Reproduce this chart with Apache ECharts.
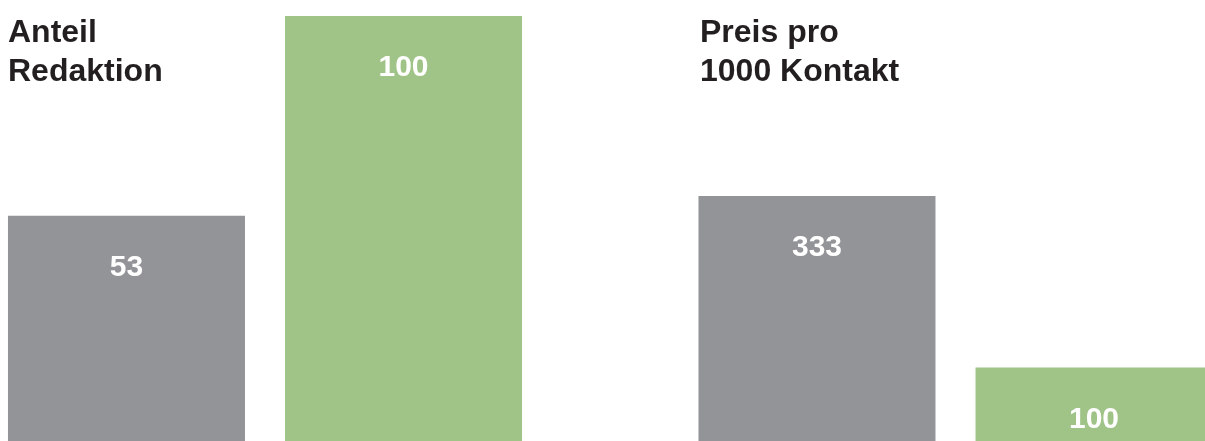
<!DOCTYPE html>
<html>
<head>
<meta charset="utf-8">
<script src="https://cdn.jsdelivr.net/npm/echarts@6/dist/echarts.min.js"></script>
<style>
html,body{margin:0;padding:0;background:#fff;}
#main{width:1205px;height:441px;}
</style>
</head>
<body>
<div id="main"></div>
<script>
var panelTitles = ['Anteil\nRedaktion', 'Preis pro\n1000 Kontakt'];
var grayValues = [53, 333];
var greenValues = [100, 100];

var GRAY = '#939498', GREEN = '#a0c487';
var FONT = '"Liberation Sans", Arial, sans-serif';

var chart = echarts.init(document.getElementById('main'), null, {renderer: 'canvas'});

var labelCfg = {
  show: true,
  position: ['50%', 52],
  align: 'center',
  verticalAlign: 'middle',
  color: '#ffffff',
  fontFamily: FONT,
  fontWeight: 'bold',
  fontSize: 30
};

function panelSeries(i) {
  return [
    {type: 'bar', xAxisIndex: i, yAxisIndex: i, data: [grayValues[i]], barWidth: 237, barGap: '16.9%',
     clip: false, itemStyle: {color: GRAY}, label: labelCfg, silent: true},
    {type: 'bar', xAxisIndex: i, yAxisIndex: i, data: [greenValues[i]], barWidth: 237, barGap: '16.9%',
     clip: false, itemStyle: {color: GREEN}, label: labelCfg, silent: true}
  ];
}

chart.setOption({
  animation: false,
  backgroundColor: '#ffffff',
  title: [
    {text: panelTitles[0], left: 3, top: 9,
     textStyle: {fontFamily: FONT, fontWeight: 'bold', fontSize: 32, lineHeight: 39, color: '#231f20'}},
    {text: panelTitles[1], left: 695, top: 9,
     textStyle: {fontFamily: FONT, fontWeight: 'bold', fontSize: 32, lineHeight: 39, color: '#231f20'}}
  ],
  grid: [
    {left: 0, width: 530, top: 16, bottom: 0},
    {left: 706, right: 0, top: 196, bottom: 0}
  ],
  xAxis: [
    {type: 'category', gridIndex: 0, data: [panelTitles[0]], show: false},
    {type: 'category', gridIndex: 1, data: [panelTitles[1]], show: false}
  ],
  yAxis: [
    {type: 'value', gridIndex: 0, min: 0, max: 100, show: false},
    {type: 'value', gridIndex: 1, min: 0, max: 333, show: false}
  ],
  series: panelSeries(0).concat(panelSeries(1))
});
</script>
</body>
</html>
